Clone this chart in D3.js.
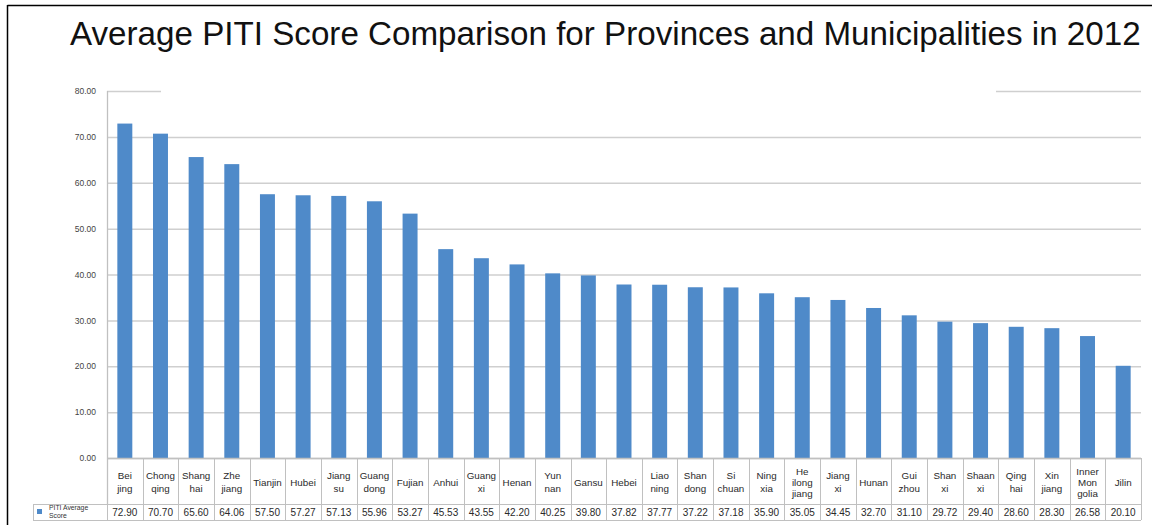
<!DOCTYPE html>
<html>
<head>
<meta charset="utf-8">
<script src="https://cdn.jsdelivr.net/npm/d3@7"></script>
<style>
  html, body { margin: 0; padding: 0; background: #fff; }
  svg { display: block; font-family: "Liberation Sans", Arial, Helvetica, sans-serif; }
</style>
</head>
<body>
<svg id="chart" width="1152" height="525"></svg>
<script>
const title = "Average PITI Score Comparison for Provinces and Municipalities in 2012";
const categories = ["Bei\njing", "Chong\nqing", "Shang\nhai", "Zhe\njiang", "Tianjin", "Hubei", "Jiang\nsu", "Guang\ndong", "Fujian", "Anhui", "Guang\nxi", "Henan", "Yun\nnan", "Gansu", "Hebei", "Liao\nning", "Shan\ndong", "Si\nchuan", "Ning\nxia", "He\nilong\njiang", "Jiang\nxi", "Hunan", "Gui\nzhou", "Shan\nxi", "Shaan\nxi", "Qing\nhai", "Xin\njiang", "Inner\nMon\ngolia", "Jilin"];
const values = [72.90, 70.70, 65.60, 64.06, 57.50, 57.27, 57.13, 55.96, 53.27, 45.53, 43.55, 42.20, 40.25, 39.80, 37.82, 37.77, 37.22, 37.18, 35.90, 35.05, 34.45, 32.70, 31.10, 29.72, 29.40, 28.60, 28.30, 26.58, 20.10];
const seriesName = ["PITI Average", "Score"];
const yTicks = [0, 10, 20, 30, 40, 50, 60, 70, 80];

(function () {
const svg = d3.select("#chart");
const pL = 107, pR = 1141, pT = 91, pB = 458;
const row1 = 504, row2 = 520, legendLeft = 33;
const gridColor = "#cfcfcf", tableColor = "#c0c0c0";

// outer frame
svg.append("line").attr("x1", 7.5).attr("x2", 1152).attr("y1", 5.5).attr("y2", 5.5).attr("stroke", "#000").attr("stroke-width", 1.5);
svg.append("line").attr("x1", 7.5).attr("x2", 7.5).attr("y1", 5).attr("y2", 525).attr("stroke", "#000").attr("stroke-width", 1.5);

// title
const t = svg.append("text").attr("x", 70).attr("y", 45).attr("font-size", 27).attr("fill", "#111").text(title);
const tw = t.node().getComputedTextLength();
t.attr("font-size", 27 * (1071 / tw));

const x = d3.scaleBand().domain(d3.range(categories.length)).range([pL, pR]).paddingInner(0.58).paddingOuter(0.29);
const xb = d3.scaleBand().domain(d3.range(categories.length)).range([pL, pR]);
const y = d3.scaleLinear().domain([0, 80]).range([pB, pT]);

// gridlines
const yAxis = d3.axisLeft(y).tickValues(yTicks).tickSize(-(pR - pL)).tickFormat(d3.format(".2f"));
const ga = svg.append("g").attr("transform", `translate(${pL},0)`).call(yAxis);
ga.select(".domain").remove();
ga.selectAll(".tick line").attr("stroke", gridColor).attr("stroke-width", 1.5);
ga.selectAll(".tick text").attr("x", -11).attr("fill", "#444").attr("font-size", 8.5).attr("font-family", "'Liberation Sans', Arial, sans-serif");
// white patch hiding middle of top gridline
svg.append("rect").attr("x", 161).attr("y", y(80) - 3).attr("width", 835).attr("height", 6).attr("fill", "#fff");

// y axis line
svg.append("line").attr("x1", pL + 0.5).attr("x2", pL + 0.5).attr("y1", pT).attr("y2", row1).attr("stroke", tableColor).attr("stroke-width", 1.3);

// bars
svg.append("g").selectAll("rect").data(values).join("rect")
  .attr("x", (d, i) => x(i)).attr("width", x.bandwidth())
  .attr("y", d => y(d)).attr("height", d => y(0) - y(d))
  .attr("fill", "#4f8ac9");

// table
const tg = svg.append("g");
tg.append("line").attr("x1", pL).attr("x2", pR).attr("y1", pB + 0.5).attr("y2", pB + 0.5).attr("stroke", tableColor).attr("stroke-width", 1.3);
tg.append("line").attr("x1", legendLeft).attr("x2", pR).attr("y1", row1 + 0.5).attr("y2", row1 + 0.5).attr("stroke", tableColor);
tg.append("line").attr("x1", legendLeft).attr("x2", pR).attr("y1", row2 + 0.5).attr("y2", row2 + 0.5).attr("stroke", tableColor);
tg.append("line").attr("x1", legendLeft + 0.5).attr("x2", legendLeft + 0.5).attr("y1", row1).attr("y2", row2).attr("stroke", tableColor);
tg.selectAll(".sep").data(d3.range(categories.length + 1)).join("line")
  .attr("x1", i => Math.round(pL + i * xb.bandwidth()) + 0.5)
  .attr("x2", i => Math.round(pL + i * xb.bandwidth()) + 0.5)
  .attr("y1", pB).attr("y2", row2).attr("stroke", tableColor);

// category labels
categories.forEach((c, i) => {
  const lines = c.split("\n");
  const lh = lines.length === 3 ? 11 : 13;
  const cy = (pB + row1) / 2 + 1;
  const cx = xb(i) + xb.bandwidth() / 2;
  const txt = tg.append("text").attr("text-anchor", "middle").attr("font-size", 9.8).attr("fill", "#2a2a2a");
  lines.forEach((l, k) => {
    txt.append("tspan").attr("x", cx).attr("y", cy + (k - (lines.length - 1) / 2) * lh + 3.5).text(l);
  });
});

// values
tg.selectAll(".val").data(values).join("text")
  .attr("x", (d, i) => xb(i) + xb.bandwidth() / 2).attr("y", (row1 + row2) / 2 + 3.7)
  .attr("text-anchor", "middle").attr("font-size", 10).attr("fill", "#2a2a2a")
  .text(d => d.toFixed(2));

// legend
tg.append("rect").attr("x", 37).attr("y", 509).attr("width", 5).attr("height", 5).attr("fill", "#4f8ac9");
const lt = tg.append("text").attr("font-size", 6.8).attr("fill", "#333");
seriesName.forEach((s, k) => lt.append("tspan").attr("x", 49).attr("y", 510 + k * 8).text(s));
})();
</script>
</body>
</html>
